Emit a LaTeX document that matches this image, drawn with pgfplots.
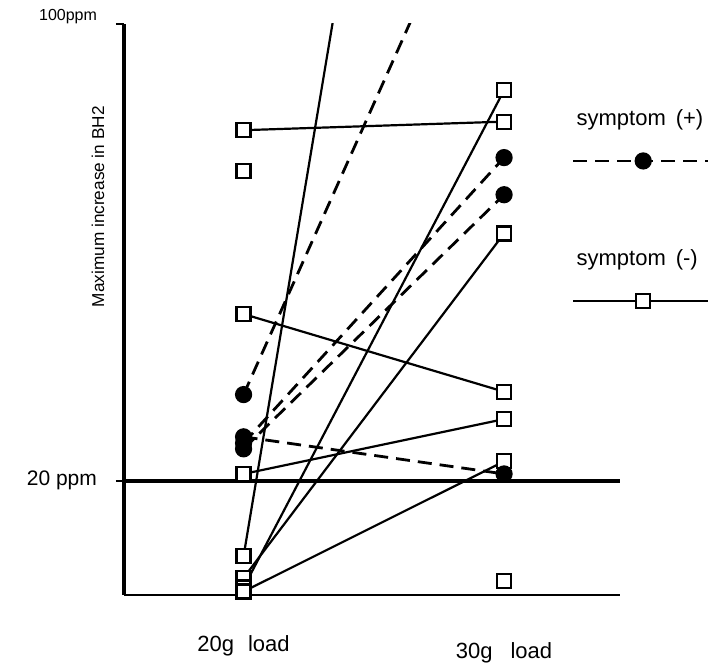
\documentclass[border=0pt]{standalone}
\usepackage{pgfplots}
\pgfplotsset{compat=1.18}
\usepackage{fontspec}
\setmainfont{Liberation Sans}
\pgfplotsset{
  neg/.style={black, line width=1.1pt, mark=square*, mark size=3.5pt, mark options={solid, fill=white, line width=1.1pt}},
  pos/.style={black, line width=1.4pt, dash pattern=on 7pt off 4pt, mark=*, mark size=3.6pt, mark options={solid, fill=black}},
}
\begin{document}
\begin{tikzpicture}
\useasboundingbox (-62pt,-34pt) rectangle (292pt,297.5pt);
\begin{axis}[
  at={(0pt,0pt)}, anchor=south west,
  scale only axis, width=248pt, height=285.5pt,
  xmin=-0.459, xmax=1.445, ymin=0, ymax=100,
  axis x line*=bottom, axis y line*=left,
  x axis line style={-, line width=1.2pt},
  y axis line style={-, line width=2.2pt},
  tick align=outside, major tick length=4pt,
  xtick={0,1},
  xticklabels={{20g\hspace{7pt}load},{\raisebox{-3.5pt}[\height][\depth]{30g\hspace{9pt}load}\hspace{5pt}}},
  xtick style={draw=none},
  xticklabel style={font=\fontsize{11}{13}\selectfont, yshift=-13pt},
  ytick={20,100},
  yticklabels={{20 ppm},{\fontsize{8}{9}\selectfont\raisebox{3.5pt}[\height][\depth]{100ppm}\hspace{3pt}}},
  ytick style={black, line width=1.2pt},
  yticklabel style={font=\fontsize{10.5}{12}\selectfont, xshift=-6pt},
  ylabel={Maximum increase in BH2},
  ylabel style={at={(axis description cs:-0.0524,0.68)}, anchor=center, font=\fontsize{8.6}{10}\selectfont},
  legend style={at={(axis description cs:0.898,0.858)}, anchor=north west, draw=none, fill=none, inner sep=0pt, row sep=56.5pt, column sep=0pt, font=\fontsize{11}{13}\selectfont},
  legend cell align=left,
  legend image code/.code={\path (0pt,0pt); \draw[overlay, mark repeat=2, mark phase=2, #1] plot coordinates {(1pt,-21pt) (36pt,-21pt) (71pt,-21pt)};},
]
\addlegendimage{pos}
\addlegendentry{symptom\hspace{5pt}(+)}
\addlegendimage{neg}
\addlegendentry{symptom\hspace{5pt}(-)}

% 20 ppm reference line
\addplot[black, line width=2pt, forget plot] coordinates {(-0.459,20) (1.445,20)};

% symptom (-)
\addplot[neg, forget plot] coordinates {(0,81.4) (1,82.9)};
\addplot[neg, forget plot] coordinates {(0,49.2) (1,35.6)};
\addplot[neg, forget plot] coordinates {(0,21.2) (1,30.8)};
\addplot[neg, forget plot] coordinates {(0,6.8) (1,280)};
\addplot[neg, forget plot] coordinates {(0,3.0) (1,63.3)};
\addplot[neg, forget plot] coordinates {(0,1.3) (1,88.4)};
\addplot[neg, forget plot] coordinates {(0,0.6) (1,23.4)};
\addplot[neg, forget plot] coordinates {(0,74.3)};
\addplot[neg, forget plot] coordinates {(1,2.4)};

% symptom (+)
\addplot[pos, forget plot] coordinates {(0,35.1) (1,137)};
\addplot[pos, forget plot] coordinates {(0,27.7) (1,21.2)};
\addplot[pos, forget plot] coordinates {(0,26.6) (1,76.6)};
\addplot[pos, forget plot] coordinates {(0,25.6) (1,70.1)};
\end{axis}
\end{tikzpicture}
\end{document}
